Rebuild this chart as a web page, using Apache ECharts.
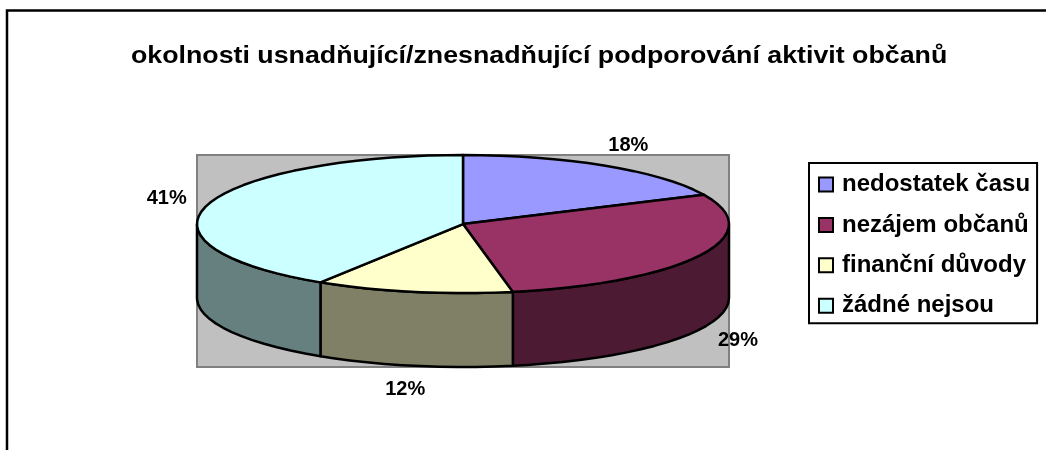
<!DOCTYPE html>
<html>
<head>
<meta charset="utf-8">
<title>okolnosti</title>
<style>
  html, body { margin: 0; padding: 0; background: #fff; }
  #chart { width: 1046px; height: 450px; }
</style>
<script src="https://cdn.jsdelivr.net/npm/echarts@6/dist/echarts.min.js"></script>
</head>
<body>
<div id="chart"></div>
<script>
const chartTitle = 'okolnosti usnadňující/znesnadňující podporování aktivit občanů'
const categories = ['nedostatek času', 'nezájem občanů', 'finanční důvody', 'žádné nejsou']
const shares = [18, 29, 12, 41]
const topColors = ['#9999FF', '#993366', '#FFFFCC', '#CCFFFF']
const wallColors = ['#4D4D80', '#4D1A33', '#808066', '#668080']

const FONT = '"Liberation Sans", Arial, sans-serif'
// axis units: x = pie radius, y = squashed pie radius, wall drops below the rim
const WALL = 1.07
const STEP = 4
const total = shares.reduce((a, b) => a + b, 0)

// angle is clockwise from 12 o'clock
function rim(deg, drop) {
  const r = (deg * Math.PI) / 180
  return [Math.sin(r), Math.cos(r) - (drop || 0)]
}

function arcPoints(from, to, drop) {
  const pts = []
  for (let a = from; a < to; a += STEP) pts.push(rim(a, drop))
  pts.push(rim(to, drop))
  return pts
}

function makeRenderItem(index) {
  const before = shares.slice(0, index).reduce((a, b) => a + b, 0)
  return (params, api) => {
    const start = (before / total) * 360
    const end = ((before + api.value(2)) / total) * 360
    const toPx = (p) => api.coord(p)
    const children = []
    const edge = { stroke: '#000', lineWidth: 2.5, lineJoin: 'round' }

    // side wall, only the front half of the rim is visible
    const wallFrom = Math.max(start, 90)
    const wallTo = Math.min(end, 270)
    if (wallFrom < wallTo) {
      const wall = arcPoints(wallFrom, wallTo, 0).concat(arcPoints(wallFrom, wallTo, WALL).reverse())
      children.push({
        type: 'polygon',
        shape: { points: wall.map(toPx) },
        style: { fill: wallColors[index], ...edge },
      })
    }

    const top = [[0, 0]].concat(arcPoints(start, end, 0))
    children.push({
      type: 'polygon',
      shape: { points: top.map(toPx) },
      style: { fill: topColors[index], ...edge },
    })

    const mid = (start + end) / 2
    const m = rim(mid)
    const low = mid > 90 && mid < 270
    const labelAt = toPx([m[0] * 1.16, m[1] * 1.35 - (low ? WALL : 0)])
    children.push({
      type: 'text',
      x: labelAt[0],
      y: labelAt[1],
      style: {
        text: Math.round((api.value(2) / total) * 100) + '%',
        font: 'bold 20px ' + FONT,
        fill: '#000',
        align: 'center',
        verticalAlign: 'middle',
      },
    })
    return { type: 'group', children }
  }
}

const chart = echarts.init(document.getElementById('chart'), null, { renderer: 'canvas' })

chart.setOption({
  animation: false,
  backgroundColor: '#fff',
  graphic: [
    {
      type: 'polyline',
      silent: true,
      shape: { points: [[7, 450], [7, 10.5], [1046, 10.5]] },
      style: { stroke: '#000', lineWidth: 2.5, fill: null },
    },
    {
      // the original title is stretched wider than the font, so scale it
      type: 'text',
      silent: true,
      x: 131,
      y: 56,
      scaleX: 1.115,
      style: {
        text: chartTitle,
        font: 'bold 24px ' + FONT,
        fill: '#000',
        align: 'left',
        verticalAlign: 'middle',
      },
    },
  ],
  legend: {
    left: 809,
    top: 163,
    orient: 'vertical',
    data: categories,
    selectedMode: false,
    icon: 'rect',
    itemWidth: 14,
    itemHeight: 14,
    itemGap: 16.4,
    padding: [9.5, 7, 5.5, 9],
    backgroundColor: '#fff',
    borderColor: '#000',
    borderWidth: 2,
    itemStyle: { borderColor: '#000', borderWidth: 2 },
    textStyle: { color: '#000', fontFamily: FONT, fontWeight: 'bold', fontSize: 24, lineHeight: 14, padding: [0, 0, 0, 4] },
  },
  grid: {
    show: true,
    left: 197,
    top: 155,
    width: 532,
    height: 212,
    backgroundColor: '#C0C0C0',
    borderColor: '#808080',
    borderWidth: 2,
  },
  xAxis: { type: 'value', min: -1, max: 1, show: false },
  yAxis: { type: 'value', min: -2.07, max: 1, show: false },
  series: categories.map((name, i) => ({
    name,
    type: 'custom',
    coordinateSystem: 'cartesian2d',
    itemStyle: { color: topColors[i] },
    encode: { x: 0, y: 1 },
    silent: true,
    renderItem: makeRenderItem(i),
    data: [[0, 0, shares[i]]],
  })),
})

window.addEventListener('resize', () => chart.resize())
</script>
</body>
</html>
